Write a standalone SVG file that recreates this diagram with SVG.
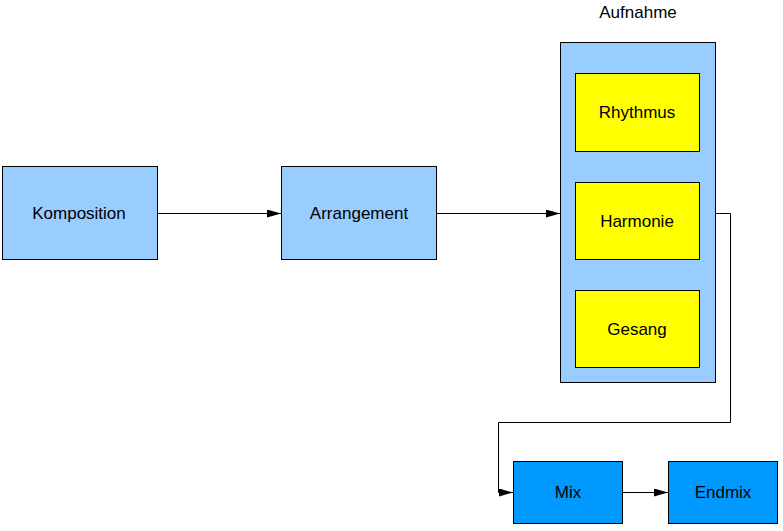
<svg xmlns="http://www.w3.org/2000/svg" width="783" height="531" viewBox="0 0 783 531">
<style>
rect{stroke:#000;stroke-width:1}
.lb{fill:#99ccff}.y{fill:#ffff00}.b{fill:#0099ff}
text{font-family:"Liberation Sans",Arial,sans-serif;font-size:17px;text-anchor:middle;fill:#000}
.c{fill:none;stroke:#000;stroke-width:1}
</style>
<defs><marker id="a" markerWidth="14" markerHeight="8" refX="14" refY="4" orient="auto" markerUnits="userSpaceOnUse"><path d="M0,0L14,4L0,8z" fill="#000"/></marker></defs>
<rect width="783" height="531" fill="#fff" style="stroke:none"/>
<g id="aufnahme"><rect class="lb" x="560.5" y="42.5" width="155" height="340"/><text x="638" y="18">Aufnahme</text></g>
<g id="komposition"><rect class="lb" x="2.5" y="166.5" width="155" height="93"/><text x="79" y="219">Komposition</text></g>
<g id="arrangement"><rect class="lb" x="281.5" y="166.5" width="155" height="93"/><text x="359" y="219">Arrangement</text></g>
<g id="rhythmus"><rect class="y" x="575.5" y="73.5" width="124" height="78"/><text x="637" y="118">Rhythmus</text></g>
<g id="harmonie"><rect class="y" x="575.5" y="182.5" width="124" height="77"/><text x="637" y="227">Harmonie</text></g>
<g id="gesang"><rect class="y" x="575.5" y="290.5" width="124" height="77"/><text x="637" y="335">Gesang</text></g>
<g id="mix"><rect class="b" x="513.5" y="461.5" width="109" height="62"/><text x="568" y="498">Mix</text></g>
<g id="endmix"><rect class="b" x="668.5" y="461.5" width="109" height="62"/><text x="723" y="498">Endmix</text></g>
<g id="connectors">
<path class="c" d="M157,213.5H281" marker-end="url(#a)"/>
<path class="c" d="M436,213.5H560" marker-end="url(#a)"/>
<path class="c" d="M715,213.5H730.5V422.5H498.5V492.5H513" marker-end="url(#a)"/>
<path class="c" d="M622,492.5H668" marker-end="url(#a)"/>
</g>
</svg>
